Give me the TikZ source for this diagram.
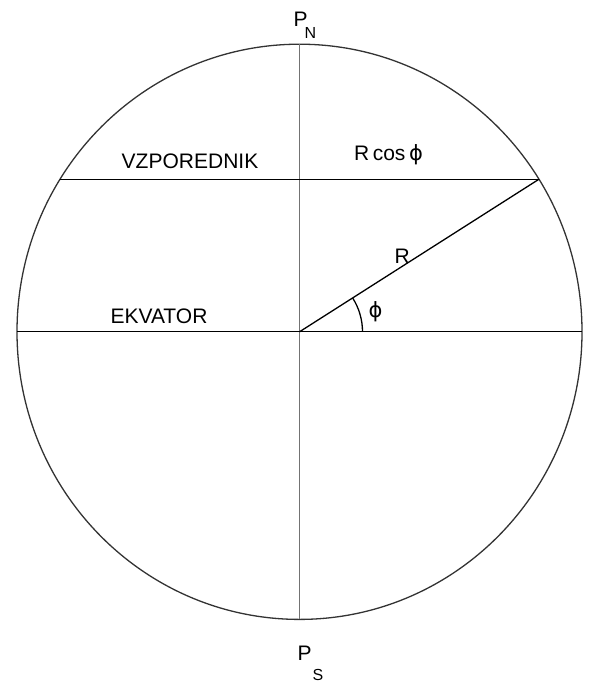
\documentclass[tikz,border=0pt]{standalone}
\usepackage{fontspec}
\setmainfont{Liberation Sans}
\newfontfamily\phifont{DejaVu Sans}
\usepackage{tikz}
\usetikzlibrary{calc,positioning}

\newcommand{\straightphi}{{\phifont ϕ}}

\begin{document}
\begin{tikzpicture}[x=1pt,y=-1pt,line width=1.3pt,
			globe line/.style={draw=black!80},
			axis line/.style={draw=black!55},
			geo line/.style={draw=black},
			big label/.style={inner sep=0pt,font=\fontsize{21}{24}\selectfont},
			small label/.style={inner sep=0pt,font=\fontsize{16}{18}\selectfont}]
			\useasboundingbox (0,0) rectangle (592,684);
			
			% points of the section
			\coordinate (O) at (299.5,331.8);
			\coordinate (N) at (299.5,44.2);
			\coordinate (S) at (299.5,619.4);
			\coordinate (W) at (17,331.8);
			\coordinate (E) at (582,331.8);
			\coordinate (A) at (59.7,179.2);
			\coordinate (B) at (539,179.2);
			
			\draw[globe line] (O) ellipse [x radius=282.5, y radius=287.6];
			\draw[axis line] (N) -- (S);
			\draw[geo line] (W) -- (E);
			\draw[geo line] (A) -- (B);
			\draw[geo line] (O) -- (B);
			\draw[geo line] ($(O)+(63,0)$) arc[start angle=0, end angle=-32.5, radius=63];
			
			\node[big label,anchor=base west] (pn) at (293,27) {P};
			\node[small label,anchor=base west] (pnsub) at (304,39) {N};
			\node[big label,anchor=base west] (ps) at (297,660) {P};
			\node[small label,anchor=base west] (pssub) at (312,680) {S};
			\node[big label] (vzp) at (190,161) {VZPOREDNIK};
			\node[big label] (ekv) at (159,316) {EKVATOR};
			\node[big label,anchor=base west] (rcos) at (353.5,160.7) {R\,cos\,\straightphi};
			\node[big label,anchor=base west] (r) at (394,263) {R};
			\node[big label] (phi) at (375.5,312) {\straightphi};
			
		\end{tikzpicture}
\end{document}
